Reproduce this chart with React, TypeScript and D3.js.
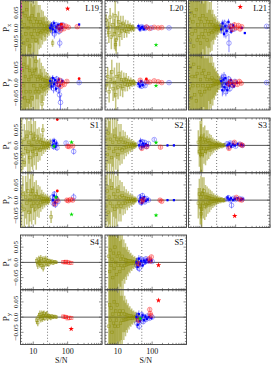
import React from "react";
import * as d3 from "d3";

type O = [number, number, number];
type Q = [string, number, number, number];

const SN_DOMAIN: [number, number] = [4.25, 1000];
const P_DOMAIN: [number, number] = [-0.09, 0.09];
const X_TICK_LABELS = [10, 100];
const Y_TICK_LABELS = [-0.05, 0, 0.05];
const Y_TICK_TEXT = ["\u22120.05", "0.0", "0.05"];

// ---------- L19 ----------
const L19x_olive: O[] = [[4.4,0.02,0.16],[4.6,-0.03,0.17],[4.9,0.05,0.15],[5.2,-0.05,0.16],[5.5,0.01,0.14],[5.8,0.04,0.15],[6.1,-0.02,0.13],[6.4,0.06,0.12],[6.8,-0.04,0.13],[7.1,0.0,0.12],[7.5,0.03,0.11],[7.9,-0.06,0.1],[8.3,0.02,0.11],[8.7,-0.02,0.1],[9.2,0.04,0.09],[9.7,-0.03,0.1],[10.2,0.01,0.09],[10.8,-0.01,0.085],[11.4,0.03,0.08],[12.0,-0.04,0.075],[12.7,0.02,0.07],[13.4,-0.02,0.07],[14.1,0.01,0.065],[14.9,-0.01,0.06],[15.7,0.02,0.055],[16.6,-0.015,0.05],[17.5,0.01,0.05],[18.5,-0.01,0.045],[19.5,0.015,0.04],[20.6,-0.005,0.04],[21.8,0.005,0.035],[23.0,-0.01,0.032],[24.3,0.008,0.028],[25.7,-0.004,0.025],[27.2,0.003,0.022],[28.8,-0.006,0.02],[30.5,0.004,0.018],[32.5,-0.002,0.016],[34.5,0.002,0.015],[36.5,-0.05,0.012]];
const L19x_pts: Q[] = [["b",33,0.005,0.012],["b",36,-0.01,0.015],["b",38,0.012,0.01],["b",41,-0.02,0.015],["b",43,0.0,0.01],["b",46,0.01,0.01],["b",49,-0.008,0.008],["b",52,0.004,0.008],["b",56,-0.012,0.01],["b",60,0.006,0.006],["b",65,-0.002,0.006],["b",59,-0.05,0.015],["b",72,0.01,0.006],["B",31,0.0,0.01],["B",34,0.008,0.01],["B",37,-0.005,0.012],["B",40,0.015,0.01],["B",44,-0.012,0.01],["B",47,0.003,0.008],["B",53,0.01,0.008],["B",58,-0.004,0.007],["B",62,0.012,0.006],["B",68,0.0,0.005],["B",216,0.011,0.004],["r",55,0.002,0.006],["r",63,-0.008,0.006],["r",70,0.008,0.006],["r",78,-0.003,0.005],["r",88,0.006,0.005],["r",105,0.002,0.004],["r",190,0.004,0.004],["R",66,0.012,0.004],["s",100,0.063,0],["m",4.3,0.07,0.04]];
const L19y_olive: O[] = [[4.4,-0.03,0.16],[4.7,0.04,0.17],[5.0,-0.01,0.15],[5.3,0.06,0.15],[5.6,-0.05,0.14],[5.9,0.02,0.15],[6.2,-0.03,0.13],[6.6,0.05,0.13],[7.0,-0.06,0.12],[7.4,0.01,0.12],[7.8,0.04,0.11],[8.2,-0.03,0.11],[8.7,0.02,0.1],[9.2,-0.05,0.1],[9.7,0.03,0.09],[10.3,-0.01,0.09],[10.9,0.04,0.08],[11.5,-0.03,0.08],[12.2,0.02,0.075],[12.9,-0.02,0.07],[13.7,0.01,0.065],[14.5,-0.03,0.06],[15.3,0.02,0.06],[16.2,-0.01,0.055],[17.1,0.015,0.05],[18.1,-0.015,0.048],[19.1,0.01,0.045],[20.2,-0.02,0.04],[21.4,0.008,0.038],[22.6,-0.01,0.034],[23.9,0.005,0.03],[25.3,-0.008,0.028],[26.8,0.006,0.025],[28.4,-0.004,0.022],[30.1,0.003,0.02],[32,-0.002,0.018],[34,0.002,0.016],[12,0.07,0.03],[18,-0.07,0.03]];
const L19y_pts: Q[] = [["b",33,-0.01,0.015],["b",36,0.01,0.012],["b",39,-0.02,0.015],["b",42,0.005,0.012],["b",45,-0.015,0.012],["b",48,0.012,0.01],["b",51,-0.005,0.01],["b",54,-0.025,0.012],["b",58,-0.04,0.02],["b",62,-0.065,0.025],["b",66,0.005,0.008],["b",216,0.0,0.006],["B",31,0.005,0.012],["B",34,-0.012,0.012],["B",37,0.015,0.01],["B",40,-0.005,0.01],["B",43,0.008,0.01],["B",46,-0.02,0.01],["B",50,0.0,0.008],["B",55,0.01,0.008],["B",60,-0.01,0.008],["B",70,0.005,0.006],["r",52,-0.005,0.008],["r",58,0.008,0.007],["r",64,-0.012,0.007],["r",70,0.0,0.006],["r",80,-0.006,0.006],["r",95,0.004,0.005],["R",216,0.013,0.003],["m",4.3,0.043,0.1]];

// ---------- L20 ----------
const L20x_olive: O[] = [[4.6,0.025,0.02],[5.2,0.0,0.03],[5.5,-0.015,0.035],[6.0,0.035,0.03],[6.5,-0.03,0.04],[7.2,0.01,0.04],[8.0,-0.02,0.05],[8.4,0.04,0.06],[9.0,-0.04,0.045],[9.8,0.0,0.04],[10.5,0.02,0.035],[11.3,-0.025,0.035],[12.2,0.01,0.03],[13.2,-0.01,0.03],[14.3,0.015,0.025],[15.5,-0.008,0.025],[16.8,0.005,0.022],[18.2,-0.012,0.02],[19.7,0.006,0.018],[21.3,-0.004,0.016],[23,0.003,0.014],[25,-0.002,0.012],[27,0.002,0.01],[29,-0.003,0.01],[8.6,-0.055,0.02]];
const L20x_pts: Q[] = [["b",42,0.002,0.006],["b",46,-0.003,0.006],["b",50,0.004,0.005],["b",55,0.0,0.005],["b",62,-0.002,0.005],["b",70,0.002,0.004],["b",95,0.0,0.004],["b",310,0.0,0.004],["B",40,0.006,0.008],["B",44,-0.005,0.008],["B",48,0.0,0.006],["B",52,0.003,0.006],["B",58,-0.004,0.005],["r",68,0.003,0.005],["r",85,-0.002,0.005],["r",115,0.002,0.004],["r",150,0.0,0.004],["r",190,0.001,0.004],["g",130,-0.056,0]];
const L20y_olive: O[] = [[4.6,-0.01,0.02],[5.1,0.02,0.03],[5.6,-0.03,0.035],[6.1,0.01,0.03],[6.7,0.035,0.04],[7.3,-0.02,0.04],[8.0,0.0,0.05],[8.7,-0.04,0.05],[9.4,0.02,0.045],[10.2,-0.015,0.04],[11.0,0.03,0.035],[11.9,-0.01,0.035],[12.9,0.01,0.03],[13.9,-0.02,0.028],[15.0,0.008,0.025],[16.3,-0.005,0.024],[17.6,0.01,0.022],[19,-0.008,0.02],[20.5,0.004,0.018],[22.2,-0.006,0.016],[24,0.003,0.014],[26,-0.002,0.012],[28.5,0.002,0.01],[31,-0.002,0.01]];
const L20y_pts: Q[] = [["b",42,-0.008,0.008],["b",46,0.0,0.006],["b",50,-0.012,0.008],["b",55,-0.004,0.006],["b",62,-0.01,0.006],["b",70,0.0,0.005],["b",310,0.0,0.004],["B",40,-0.004,0.008],["B",44,-0.012,0.008],["B",48,0.004,0.006],["B",53,-0.008,0.006],["r",45,0.008,0.006],["r",68,0.004,0.005],["r",85,0.002,0.005],["r",115,0.006,0.004],["r",150,0.003,0.004],["r",190,0.0,0.004],["R",68,0.012,0.003],["g",130,-0.01,0]];

// ---------- L21 ----------
const L21x_olive: O[] = [[4.5,0.03,0.2],[4.8,-0.04,0.19],[5.1,0.05,0.2],[5.4,-0.02,0.18],[5.7,0.02,0.19],[6.0,-0.06,0.17],[6.4,0.04,0.18],[6.8,-0.01,0.16],[7.2,0.06,0.16],[7.6,-0.04,0.15],[8.0,0.01,0.15],[8.5,-0.03,0.14],[9.0,0.03,0.14],[9.5,-0.05,0.13],[10.0,0.02,0.12],[10.6,-0.02,0.12],[11.2,0.04,0.11],[11.8,-0.03,0.11],[12.5,0.01,0.1],[13.2,-0.01,0.1],[14.0,0.03,0.09],[14.8,-0.04,0.09],[15.6,0.02,0.085],[16.5,-0.02,0.08],[17.4,0.01,0.075],[18.4,-0.01,0.07],[19.4,0.02,0.065],[20.5,-0.015,0.06],[21.6,0.01,0.05],[22.8,-0.01,0.045],[24.0,0.005,0.04],[25.3,-0.005,0.035],[26.6,0.008,0.03],[28,-0.006,0.025],[29.5,0.004,0.022],[31,-0.003,0.02],[33,0.003,0.018],[35,-0.002,0.016],[38,0.002,0.014],[42,0.0,0.012]];
const L21x_pts: Q[] = [["b",40,0.008,0.015],["b",44,-0.01,0.015],["b",48,0.015,0.012],["b",52,-0.02,0.015],["b",56,0.0,0.01],["b",60,0.012,0.01],["b",64,-0.05,0.03],["b",70,-0.008,0.01],["b",78,0.006,0.008],["b",90,-0.004,0.008],["b",800,0.005,0.004],["B",38,-0.005,0.015],["B",42,0.015,0.012],["B",46,-0.02,0.012],["B",50,0.005,0.01],["B",55,-0.01,0.01],["B",62,0.02,0.01],["B",68,0.0,0.008],["B",75,-0.012,0.008],["B",85,0.008,0.006],["B",185,-0.017,0.004],["B",150,0.0,0.005],["r",70,0.005,0.01],["r",80,-0.005,0.008],["r",92,0.01,0.008],["r",105,0.0,0.007],["r",120,0.008,0.006],["r",135,-0.004,0.006],["r",150,0.004,0.005],["s",136,0.069,0]];
const L21y_olive: O[] = [[4.5,-0.02,0.2],[4.8,0.05,0.2],[5.1,-0.05,0.19],[5.4,0.02,0.19],[5.7,-0.01,0.18],[6.0,0.06,0.17],[6.4,-0.04,0.18],[6.8,0.02,0.17],[7.2,-0.06,0.16],[7.6,0.03,0.16],[8.0,-0.01,0.15],[8.5,0.05,0.15],[9.0,-0.03,0.14],[9.5,0.01,0.14],[10.0,-0.04,0.13],[10.6,0.03,0.13],[11.2,-0.01,0.12],[11.8,0.04,0.12],[12.5,-0.03,0.11],[13.2,0.02,0.11],[14.0,-0.02,0.1],[14.8,0.01,0.1],[15.6,-0.01,0.09],[16.5,0.03,0.09],[17.4,-0.02,0.085],[18.4,0.01,0.08],[19.4,-0.01,0.075],[20.5,0.015,0.07],[21.6,-0.01,0.065],[22.8,0.008,0.058],[24.0,-0.006,0.05],[25.3,0.005,0.045],[26.6,-0.004,0.04],[28,0.004,0.035],[29.5,-0.003,0.03],[31,0.003,0.026],[33,-0.002,0.022],[35,0.002,0.02],[38,0.0,0.016],[41,-0.002,0.014]];
const L21y_pts: Q[] = [["b",40,0.01,0.02],["b",43,-0.02,0.02],["b",46,0.02,0.015],["b",49,-0.01,0.015],["b",52,-0.03,0.015],["b",55,0.005,0.012],["b",59,-0.015,0.012],["b",63,0.012,0.01],["b",68,-0.02,0.01],["b",74,0.0,0.008],["b",82,-0.01,0.008],["b",95,0.004,0.006],["b",800,0.0,0.004],["B",38,0.005,0.02],["B",41,-0.025,0.02],["B",44,0.01,0.015],["B",47,-0.015,0.015],["B",50,0.015,0.012],["B",53,-0.005,0.012],["B",57,-0.025,0.012],["B",61,0.0,0.01],["B",66,-0.01,0.01],["B",72,0.008,0.008],["B",80,-0.004,0.008],["B",90,-0.012,0.006],["B",110,0.0,0.006],["r",62,-0.004,0.01],["r",72,0.004,0.008],["r",84,-0.008,0.008],["r",98,0.002,0.007],["r",112,-0.006,0.006],["r",128,0.004,0.006],["r",145,-0.002,0.005]];

// ---------- S1 ----------
const S1x_olive: O[] = [[4.6,0.01,0.12],[5.0,-0.03,0.05],[5.5,0.02,0.05],[6.0,-0.01,0.06],[6.5,0.03,0.06],[7.0,-0.02,0.07],[7.5,0.01,0.07],[8.0,-0.04,0.06],[8.5,0.04,0.06],[9.0,0.0,0.07],[9.6,-0.02,0.06],[10.2,0.02,0.06],[10.8,-0.01,0.055],[11.5,0.03,0.05],[12.2,-0.03,0.05],[13,0.01,0.045],[13.8,-0.01,0.045],[14.7,0.02,0.04],[15.6,-0.015,0.035],[16.6,0.01,0.03],[17.7,-0.005,0.03],[18.8,0.008,0.025],[20,-0.006,0.022],[21.3,0.005,0.02],[22.7,-0.004,0.018],[24.2,0.003,0.016],[25.8,0.0,0.015],[27.5,0.004,0.013],[29.3,-0.002,0.012],[31,0.01,0.012],[5.5,-0.056,0.015],[19,0.05,0.02]];
const S1x_pts: Q[] = [["b",36,0.01,0.012],["b",39,-0.004,0.01],["b",42,0.012,0.01],["b",46,0.004,0.008],["b",49,-0.008,0.01],["b",90,0.008,0.006],["b",150,-0.02,0.01],["B",37,0.0,0.012],["B",40,0.015,0.01],["B",44,-0.005,0.01],["B",47,0.006,0.008],["r",100,-0.003,0.005],["r",110,-0.004,0.005],["r",140,-0.002,0.005],["R",50,0.085,0],["g",130,0.01,0],["g",40,-0.003,0]];
const S1y_olive: O[] = [[4.6,-0.02,0.07],[5.0,0.02,0.06],[5.5,-0.03,0.06],[6.0,0.01,0.07],[6.5,-0.01,0.07],[7.0,0.03,0.07],[7.5,-0.04,0.06],[8.0,0.0,0.07],[8.5,0.02,0.065],[9.0,-0.02,0.06],[9.6,0.03,0.055],[10.2,-0.01,0.055],[10.8,0.01,0.05],[11.5,-0.03,0.05],[12.2,0.02,0.045],[13,-0.01,0.045],[13.8,0.01,0.04],[14.7,-0.02,0.038],[15.6,0.01,0.035],[16.6,-0.008,0.03],[17.7,0.006,0.028],[18.8,-0.005,0.025],[20,0.004,0.022],[21.3,-0.004,0.02],[22.7,0.003,0.018],[24.2,-0.002,0.016],[25.8,0.002,0.015],[27.5,-0.003,0.013],[29.3,0.002,0.012],[33,-0.055,0.02]];
const S1y_pts: Q[] = [["b",36,0.01,0.01],["b",38,-0.01,0.012],["b",41,0.02,0.01],["b",44,-0.015,0.01],["b",47,0.005,0.008],["b",52,-0.005,0.008],["b",150,0.01,0.012],["B",37,0.0,0.012],["B",40,0.015,0.01],["B",43,-0.008,0.01],["B",48,0.01,0.008],["r",42,-0.012,0.008],["r",50,0.0,0.008],["r",95,0.0,0.005],["r",105,-0.002,0.005],["r",120,0.002,0.005],["r",140,0.0,0.005],["R",50,0.03,0.004],["g",46,0.009,0],["g",130,-0.047,0]];

// ---------- S2 ----------
const S2x_olive: O[] = [[4.5,0.02,0.1],[4.9,-0.03,0.09],[5.3,0.04,0.1],[5.7,-0.01,0.09],[6.1,0.02,0.08],[6.6,-0.04,0.08],[7.1,0.01,0.08],[7.6,-0.02,0.075],[8.2,0.03,0.07],[8.8,-0.01,0.07],[9.4,0.02,0.065],[10.1,-0.03,0.06],[10.8,0.01,0.06],[11.6,-0.01,0.055],[12.4,0.02,0.05],[13.3,-0.015,0.045],[14.3,0.01,0.04],[15.3,-0.008,0.038],[16.4,0.01,0.035],[17.6,-0.006,0.03],[18.9,0.005,0.028],[20.3,-0.004,0.025],[21.8,0.004,0.022],[23.4,-0.003,0.02],[25.1,0.002,0.018],[27,-0.002,0.016],[29,0.002,0.014],[31,0.0,0.012],[33.5,0.001,0.01]];
const S2x_pts: Q[] = [["b",44,0.008,0.01],["b",48,-0.006,0.01],["b",52,0.012,0.008],["b",56,0.0,0.008],["b",61,0.01,0.007],["b",68,-0.004,0.006],["b",78,0.006,0.006],["b",115,0.019,0.005],["B",42,0.0,0.01],["B",46,0.015,0.01],["B",50,-0.004,0.008],["B",54,0.006,0.008],["B",59,-0.002,0.007],["B",65,0.004,0.006],["B",74,0.0,0.005],["B",280,0.0,0.004],["B",430,0.0,0.004],["r",50,-0.01,0.006],["r",70,-0.004,0.006],["r",175,-0.006,0.005],["g",130,0.009,0]];
const S2y_olive: O[] = [[4.5,-0.02,0.1],[4.9,0.03,0.1],[5.3,-0.04,0.09],[5.7,0.01,0.09],[6.1,-0.01,0.08],[6.6,0.04,0.08],[7.1,-0.02,0.08],[7.6,0.02,0.075],[8.2,-0.03,0.07],[8.8,0.01,0.07],[9.4,-0.02,0.065],[10.1,0.03,0.06],[10.8,-0.01,0.06],[11.6,0.01,0.055],[12.4,-0.02,0.05],[13.3,0.015,0.045],[14.3,-0.01,0.04],[15.3,0.008,0.038],[16.4,-0.01,0.035],[17.6,0.006,0.03],[18.9,-0.005,0.028],[20.3,0.004,0.025],[21.8,-0.004,0.022],[23.4,0.003,0.02],[25.1,-0.002,0.018],[27,0.002,0.016],[29,-0.002,0.014],[31,0.0,0.012],[33.5,0.001,0.01]];
const S2y_pts: Q[] = [["b",44,0.01,0.01],["b",48,-0.008,0.01],["b",52,0.015,0.008],["b",56,0.0,0.008],["b",61,-0.006,0.007],["b",68,0.005,0.006],["b",78,0.0,0.006],["B",42,-0.004,0.01],["B",46,0.008,0.01],["B",50,-0.01,0.008],["B",54,0.004,0.008],["B",59,0.01,0.007],["B",65,-0.003,0.006],["B",74,0.002,0.005],["B",280,0.0,0.004],["B",430,0.0,0.004],["r",50,-0.004,0.006],["r",55,0.002,0.006],["r",170,0.0,0.005],["r",190,-0.004,0.005],["g",130,-0.05,0]];

// ---------- S3 ----------
const S3x_olive: O[] = [[8.2,0.01,0.04],[8.8,-0.02,0.05],[9.3,0.02,0.06],[9.8,-0.01,0.08],[10.3,0.03,0.06],[10.8,-0.03,0.06],[11.4,0.01,0.05],[12,-0.01,0.05],[12.6,0.02,0.045],[13.3,-0.02,0.045],[14,0.01,0.04],[14.8,-0.01,0.04],[15.6,0.015,0.035],[16.5,-0.01,0.035],[17.4,0.008,0.03],[18.4,-0.006,0.03],[19.4,0.006,0.028],[20.5,-0.005,0.025],[21.7,0.004,0.022],[23,-0.004,0.02],[24.4,0.003,0.018],[26,-0.002,0.016],[27.7,0.002,0.015],[29.5,-0.002,0.014],[31.5,0.002,0.013],[34,0.0,0.012],[37,0.001,0.01],[40,-0.001,0.009],[44,0.0,0.008],[48,0.001,0.007],[9.6,-0.03,0.06]];
const S3x_pts: Q[] = [["b",56,0.005,0.008],["b",62,-0.005,0.008],["b",70,0.008,0.006],["b",78,0.0,0.006],["b",88,0.006,0.005],["b",100,-0.003,0.005],["b",130,0.004,0.004],["b",155,0.0,0.004],["B",58,0.0,0.008],["B",66,0.006,0.006],["B",74,-0.004,0.006],["B",84,0.003,0.005],["B",95,0.0,0.005],["B",115,0.005,0.004],["B",145,0.002,0.004],["B",160,0.0,0.004],["r",64,-0.01,0.006],["r",92,0.01,0.005],["r",140,0.003,0.005],["r",158,0.0,0.004]];
const S3y_olive: O[] = [[8.2,-0.01,0.05],[8.8,0.02,0.05],[9.3,-0.02,0.06],[9.8,0.01,0.07],[10.3,-0.03,0.06],[10.8,0.02,0.055],[11.4,-0.01,0.05],[12,0.03,0.045],[12.6,-0.02,0.045],[13.3,0.01,0.04],[14,-0.015,0.04],[14.8,0.01,0.035],[15.6,-0.01,0.035],[16.5,0.008,0.03],[17.4,-0.01,0.03],[18.4,0.006,0.028],[19.4,-0.006,0.026],[20.5,0.005,0.024],[21.7,-0.004,0.022],[23,0.003,0.02],[24.4,-0.003,0.018],[26,0.002,0.016],[27.7,-0.002,0.015],[29.5,0.002,0.014],[31.5,-0.001,0.012],[34,0.001,0.011],[37,0.0,0.01],[40,0.001,0.009],[44,-0.001,0.008],[48,0.0,0.007],[10,-0.045,0.035]];
const S3y_pts: Q[] = [["b",56,0.004,0.008],["b",62,0.008,0.008],["b",70,0.0,0.006],["b",76,-0.017,0.01],["b",88,0.006,0.005],["b",100,0.002,0.005],["b",130,0.005,0.004],["b",155,0.003,0.004],["B",58,0.008,0.008],["B",66,0.002,0.006],["B",74,0.006,0.006],["B",84,0.0,0.005],["B",95,0.004,0.005],["B",115,0.006,0.004],["B",145,0.002,0.004],["B",160,0.004,0.004],["r",105,0.009,0.005],["r",130,0.002,0.005],["r",150,0.0,0.004],["s",94,-0.052,0]];

// ---------- S4 ----------
const S4x_olive: O[] = [[12.5,0.005,0.012],[13.5,-0.008,0.014],[14.5,0.01,0.012],[15.5,-0.003,0.015],[16.5,0.012,0.012],[17.5,-0.01,0.012],[18.5,0.004,0.015],[19.5,-0.018,0.012],[20.5,0.008,0.012],[21.5,-0.005,0.01],[23,0.01,0.012],[24.5,-0.004,0.01],[26,0.006,0.01],[28,-0.006,0.008],[30,0.004,0.008],[32,0.0,0.008],[35,0.003,0.007],[38,-0.002,0.006],[42,0.002,0.006],[47,0.0,0.005],[15,-0.002,0.01]];
const S4x_pts: Q[] = [["q",75,0.001,0.003],["q",82,0.0,0.003],["q",90,0.002,0.003],["q",100,0.0,0.003],["q",112,-0.001,0.003],["q",128,-0.002,0.003]];
const S4y_olive: O[] = [[12.5,-0.01,0.012],[13.5,-0.018,0.012],[14.5,0.002,0.012],[15.5,0.008,0.014],[16.5,-0.006,0.012],[17.5,0.01,0.012],[18.5,-0.004,0.012],[19.5,0.005,0.015],[20.5,0.012,0.01],[21.5,-0.003,0.01],[23,0.006,0.01],[24.5,0.01,0.01],[26,-0.002,0.01],[28,0.004,0.008],[30,0.002,0.008],[32,-0.002,0.008],[35,0.003,0.007],[38,0.0,0.006],[42,0.002,0.006],[47,0.0,0.005]];
const S4y_pts: Q[] = [["q",75,0.002,0.003],["q",82,0.001,0.003],["q",90,0.0,0.003],["q",100,-0.004,0.003],["q",112,-0.002,0.003],["q",128,-0.003,0.003],["s",127,-0.039,0]];

// ---------- S5 ----------
const S5x_olive: O[] = [[5.5,0.02,0.2],[5.8,-0.03,0.19],[6.1,0.04,0.18],[6.4,-0.01,0.18],[6.8,0.01,0.17],[7.1,-0.05,0.16],[7.5,0.03,0.15],[7.9,-0.02,0.15],[8.3,0.05,0.14],[8.7,0.0,0.13],[9.2,-0.04,0.12],[9.7,0.02,0.12],[10.2,-0.01,0.11],[10.8,0.03,0.1],[11.4,-0.03,0.1],[12,0.01,0.09],[12.7,-0.01,0.085],[13.4,0.02,0.08],[14.2,-0.02,0.07],[15,0.01,0.065],[15.9,-0.01,0.06],[16.8,0.008,0.055],[17.8,-0.008,0.05],[18.9,0.006,0.045],[20,-0.006,0.04],[21.2,0.005,0.036],[22.5,-0.004,0.032],[24,0.004,0.028],[25.5,-0.003,0.025],[27,0.003,0.022],[29,-0.002,0.02],[31,0.002,0.018],[33.5,-0.002,0.016],[36,0.001,0.014],[39,0.0,0.012]];
const S5x_pts: Q[] = [["b",36,-0.01,0.015],["b",39,0.005,0.012],["b",42,-0.02,0.012],["b",46,0.01,0.01],["b",50,-0.005,0.01],["b",55,0.008,0.008],["b",60,0.0,0.008],["b",66,0.012,0.007],["b",74,0.004,0.006],["b",84,0.008,0.006],["b",100,0.003,0.005],["B",35,0.0,0.015],["B",38,-0.015,0.012],["B",41,0.012,0.012],["B",44,-0.006,0.01],["B",48,0.004,0.01],["B",53,-0.01,0.008],["B",58,0.006,0.008],["B",64,0.0,0.007],["B",70,0.009,0.006],["B",80,0.002,0.006],["B",95,0.006,0.005],["r",40,-0.005,0.008],["r",82,0.012,0.006],["r",88,0.004,0.006],["r",95,0.018,0.005],["s",153,-0.009,0]];
const S5y_olive: O[] = [[5.5,-0.03,0.2],[5.8,0.04,0.19],[6.1,-0.01,0.18],[6.4,0.03,0.18],[6.8,-0.05,0.17],[7.1,0.01,0.16],[7.5,-0.02,0.15],[7.9,0.05,0.15],[8.3,-0.03,0.14],[8.7,0.02,0.13],[9.2,-0.01,0.12],[9.7,0.04,0.12],[10.2,-0.03,0.11],[10.8,0.01,0.1],[11.4,0.02,0.1],[12,-0.02,0.09],[12.7,0.01,0.085],[13.4,-0.01,0.08],[14.2,0.02,0.07],[15,-0.01,0.065],[15.9,0.01,0.06],[16.8,-0.008,0.055],[17.8,0.008,0.05],[18.9,-0.006,0.045],[20,0.006,0.04],[21.2,-0.005,0.036],[22.5,0.004,0.032],[24,-0.004,0.028],[25.5,0.003,0.025],[27,-0.003,0.022],[29,0.002,0.02],[31,-0.002,0.018],[33.5,0.002,0.016],[36,-0.001,0.014],[39,0.0,0.012]];
const S5y_pts: Q[] = [["b",36,-0.02,0.015],["b",39,0.005,0.012],["b",42,-0.03,0.012],["b",46,-0.01,0.01],["b",50,0.008,0.01],["b",55,-0.015,0.008],["b",60,0.0,0.008],["b",66,-0.008,0.007],["b",74,0.004,0.006],["b",84,-0.004,0.006],["b",100,0.0,0.005],["B",35,0.0,0.015],["B",38,-0.025,0.012],["B",41,0.01,0.012],["B",44,-0.012,0.01],["B",48,-0.004,0.01],["B",53,0.006,0.008],["B",58,-0.01,0.008],["B",64,0.002,0.007],["B",70,-0.006,0.006],["B",80,0.0,0.006],["B",95,-0.003,0.005],["r",85,0.025,0.006],["r",88,0.012,0.006],["r",92,0.005,0.006],["r",40,-0.01,0.008],["g",45,-0.005,0],["s",153,0.055,0]];

const PANEL_NAMES = ["L19", "L20", "L21", "S1", "S2", "S3", "S4", "S5"];
const SN_CUTS = [26, 29, 30, 26, 26, 28, 26, 50];
const OLIVE_X = [L19x_olive, L20x_olive, L21x_olive, S1x_olive, S2x_olive, S3x_olive, S4x_olive, S5x_olive];
const OLIVE_Y = [L19y_olive, L20y_olive, L21y_olive, S1y_olive, S2y_olive, S3y_olive, S4y_olive, S5y_olive];
const PTS_X = [L19x_pts, L20x_pts, L21x_pts, S1x_pts, S2x_pts, S3x_pts, S4x_pts, S5x_pts];
const PTS_Y = [L19y_pts, L20y_pts, L21y_pts, S1y_pts, S2y_pts, S3y_pts, S4y_pts, S5y_pts];

// layout
const COL_LEFT = [20.5, 105, 188.5];
const PW = 81.5;
const GROUP_TOP = [0.5, 118, 235];
const SH = 54.75;
const FONT = "'Liberation Serif', 'DejaVu Serif', serif";
const OLIVE = "#8a8a00";
const BLUE = "#0000ff";
const RED = "#ff0000";
const AX = "#404040";

const starPath = d3.symbol().type(d3.symbolStar).size(9)() as string;
const gstarPath = d3.symbol().type(d3.symbolStar).size(7)() as string;

function SubPanel({ id, left, top, olive, pts, cut, label, showY, comp, showX }: any) {
  const x = d3.scaleLog().domain(SN_DOMAIN).range([left, left + PW]);
  const y = d3.scaleLinear().domain(P_DOMAIN).range([top + SH, top]);
  const xt = x.ticks();
  const minorY = d3.range(-8, 9).map((v) => v / 100);
  const clip = `clip-${id}`;
  const bar = (sn: number, p: number, e: number) => ({ x: x(sn), y1: y(p - e), y2: y(p + e) });
  const others = (pts as Q[]);
  const order = ["m", "b", "B", "r", "R", "q", "g", "s"];
  const sorted = [...others].sort((a, b) => order.indexOf(a[0]) - order.indexOf(b[0]));
  return (
    <g>
      <defs>
        <clipPath id={clip}>
          <rect x={left} y={top} width={PW} height={SH} />
        </clipPath>
      </defs>
      <g clipPath={`url(#${clip})`}>
        <line x1={left} x2={left + PW} y1={y(0)} y2={y(0)} stroke="#555" strokeWidth={1} />
        <line x1={x(cut)} x2={x(cut)} y1={top} y2={top + SH} stroke="#555" strokeWidth={0.8} strokeDasharray="1,2" />
        {(olive as O[]).map((d, i) => {
          const b = bar(d[0], d[1], d[2]);
          return <line key={"ob" + i} x1={b.x} x2={b.x} y1={b.y1} y2={b.y2} stroke={OLIVE} strokeOpacity={0.5} strokeWidth={1.5} />;
        })}
        {(olive as O[]).map((d, i) => (
          <rect key={"os" + i} x={x(d[0]) - 1.3} y={y(d[1]) - 1.3} width={2.6} height={2.6} fill="none" stroke={OLIVE} strokeOpacity={0.7} strokeWidth={0.6} />
        ))}
        {sorted.map((d, i) => {
          const [t, sn, p, e] = d;
          const cx = x(sn), cy = y(p);
          if (t === "m") {
            return (
              <g key={i}>
                <line x1={cx} x2={cx} y1={y(p - e)} y2={y(p + e)} stroke="#ff00ff" strokeOpacity={0.6} strokeWidth={1.6} />
                <circle cx={cx} cy={cy} r={1.3} fill="#ff00ff" />
              </g>
            );
          }
          if (t === "b" || t === "B") {
            return (
              <g key={i}>
                {e > 0 && <line x1={cx} x2={cx} y1={y(p - e)} y2={y(p + e)} stroke={BLUE} strokeOpacity={0.45} strokeWidth={1} />}
                {t === "b" ? (
                  <circle cx={cx} cy={cy} r={2.3} fill="none" stroke="#2a2aff" strokeOpacity={0.6} strokeWidth={0.7} />
                ) : (
                  <rect x={cx - 1.1} y={cy - 1.1} width={2.2} height={2.2} fill={BLUE} />
                )}
              </g>
            );
          }
          if (t === "r" || t === "R") {
            return (
              <g key={i}>
                {e > 0 && <line x1={cx} x2={cx} y1={y(p - e)} y2={y(p + e)} stroke={RED} strokeOpacity={0.4} strokeWidth={1} />}
                {t === "r" ? (
                  <circle cx={cx} cy={cy} r={2.3} fill={RED} fillOpacity={0.18} stroke={RED} strokeOpacity={0.5} strokeWidth={0.7} />
                ) : (
                  <circle cx={cx} cy={cy} r={1.4} fill={RED} />
                )}
              </g>
            );
          }
          if (t === "q") {
            return (
              <g key={i}>
                <line x1={cx} x2={cx} y1={y(p - e)} y2={y(p + e)} stroke={RED} strokeOpacity={0.4} strokeWidth={1} />
                <rect x={cx - 1.6} y={cy - 1.6} width={3.2} height={3.2} fill="none" stroke={RED} strokeOpacity={0.6} strokeWidth={0.7} />
              </g>
            );
          }
          if (t === "g") {
            return <path key={i} d={gstarPath} transform={`translate(${cx},${cy})`} fill="#00dd00" />;
          }
          return <path key={i} d={starPath} transform={`translate(${cx},${cy})`} fill={RED} />;
        })}
      </g>
      {xt.map((v, i) => {
        const major = X_TICK_LABELS.includes(v) || v === 1000;
        const L = major ? 3 : 1.6;
        return (
          <g key={"xt" + i}>
            <line x1={x(v)} x2={x(v)} y1={top + SH} y2={top + SH - L} stroke={AX} strokeWidth={0.6} />
            <line x1={x(v)} x2={x(v)} y1={top} y2={top + L} stroke={AX} strokeWidth={0.6} />
          </g>
        );
      })}
      {minorY.map((v, i) => {
        const major = Math.abs(Math.round(v * 100) % 5) === 0;
        const L = major ? 3 : 1.6;
        return (
          <g key={"yt" + i}>
            <line x1={left} x2={left + L} y1={y(v)} y2={y(v)} stroke={AX} strokeWidth={0.6} />
            <line x1={left + PW} x2={left + PW - L} y1={y(v)} y2={y(v)} stroke={AX} strokeWidth={0.6} />
          </g>
        );
      })}
      <rect x={left} y={top} width={PW} height={SH} fill="none" stroke={AX} strokeWidth={0.9} />
      {label && (
        <text x={left + PW - 3} y={top + 10} textAnchor="end" fontSize={8.5} fontFamily={FONT} fill="#111">
          {label}
        </text>
      )}
      {showY && (
        <g>
          {Y_TICK_LABELS.map((v, i) => (
            <text key={"yl" + i} transform={`translate(17.5,${y(v)}) rotate(-90)`} textAnchor="middle" fontSize={7} fontFamily={FONT} fill="#111">
              {Y_TICK_TEXT[i]}
            </text>
          ))}
          <text transform={`translate(8.5,${top + SH / 2}) rotate(-90)`} textAnchor="middle" fontSize={9} fontFamily={FONT} fill="#111">
            P<tspan fontSize={6.5} dy={2}>{comp}</tspan>
          </text>
        </g>
      )}
      {showX && (
        <g>
          {X_TICK_LABELS.map((v, i) => (
            <text key={"xl" + i} x={x(v)} y={354} textAnchor="middle" fontSize={8} fontFamily={FONT} fill="#111">
              {v}
            </text>
          ))}
          <text x={left + PW / 2} y={363} textAnchor="middle" fontSize={8} fontFamily={FONT} fill="#111">
            S/N
          </text>
        </g>
      )}
    </g>
  );
}

export default function App() {
  return (
    <svg width={272} height={365} style={{ position: "absolute", left: 0, top: 0, background: "#fff" }}>
      {PANEL_NAMES.map((name, i) => {
        const col = i < 6 ? i % 3 : i - 6;
        const grp = i < 3 ? 0 : i < 6 ? 1 : 2;
        const left = COL_LEFT[col];
        const top = GROUP_TOP[grp];
        return (
          <g key={name}>
            <SubPanel id={name + "x"} left={left} top={top} olive={OLIVE_X[i]} pts={PTS_X[i]} cut={SN_CUTS[i]} label={name} showY={col === 0} comp="x" showX={false} />
            <SubPanel id={name + "y"} left={left} top={top + SH} olive={OLIVE_Y[i]} pts={PTS_Y[i]} cut={SN_CUTS[i]} label={null} showY={col === 0} comp="y" showX={grp === 2} />
          </g>
        );
      })}
    </svg>
  );
}
